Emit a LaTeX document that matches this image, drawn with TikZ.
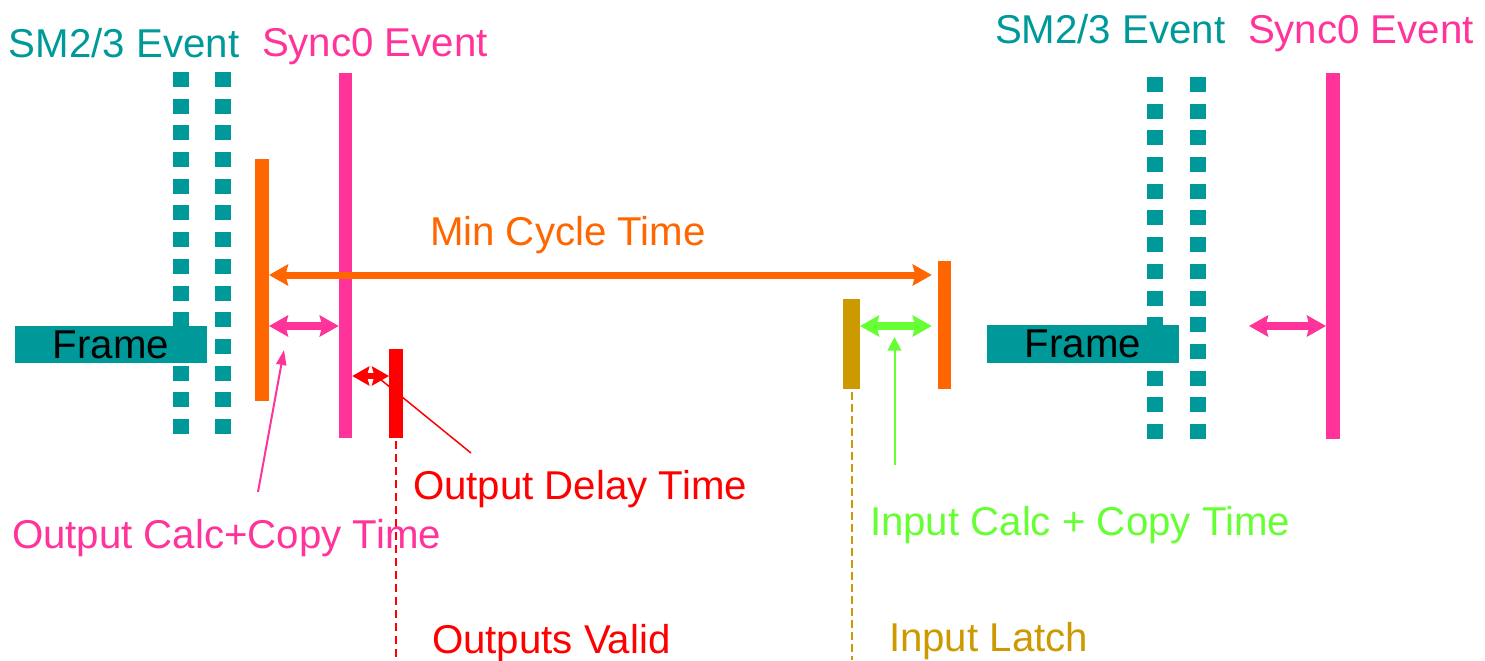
\documentclass[tikz,border=0pt]{standalone}
\usepackage{fontspec}
\setmainfont{Liberation Sans}
\usetikzlibrary{arrows.meta}
\definecolor{cTeal}{HTML}{009999}
\definecolor{cPink}{HTML}{FF3399}
\definecolor{cOrange}{HTML}{FF6600}
\definecolor{cRed}{HTML}{FF0000}
\definecolor{cGold}{HTML}{CC9900}
\definecolor{cGreen}{HTML}{66FF33}
\begin{document}
\begin{tikzpicture}[x=0.02cm,y=-0.02cm,
  bar/.style={rectangle, draw=none, inner sep=0pt, outer sep=0pt},
  lbl/.style={anchor=base west, inner sep=0pt, outer sep=0pt, font=\fontsize{22.9pt}{27pt}\selectfont},
  frm/.style={rectangle, fill=cTeal, inner sep=0pt, outer sep=0pt, minimum width=3.84cm, minimum height=0.75cm, text=black, font=\fontsize{22.9pt}{27pt}\selectfont},
  dotline/.style={cTeal, line width=0.32cm, dash pattern=on 0.3cm off 0.234cm},
  tipbig/.tip={Stealth[length=0.38cm,width=0.42cm,inset=0.05cm]},
  tipred/.tip={Stealth[length=0.34cm,width=0.38cm,inset=0.05cm]},
  bigarrow/.style={line width=0.14cm, tipbig-tipbig},
  midarrow/.style={line width=0.15cm, tipbig-tipbig},
  pointer/.style={line width=0.04cm},
]
\useasboundingbox (0,0) rectangle (1485,660);

% reference coordinates
\coordinate (bot) at (0,660);
\coordinate (yMin) at (0,275);
\coordinate (yPinkL) at (0,326);
\coordinate (yRed) at (0,376);
\coordinate (yGreen) at (0,326);
\coordinate (yPinkR) at (0,326);

% dotted SM2/3 lines
\coordinate (d1t) at (181,72);  \coordinate (d1b) at (181,435);
\coordinate (d2t) at (223,72);  \coordinate (d2b) at (223,435);
\coordinate (d3t) at (1155,77); \coordinate (d3b) at (1155,439);
\coordinate (d4t) at (1198,77); \coordinate (d4b) at (1198,439);
\draw[dotline] (d1t) -- (d1b);
\draw[dotline] (d2t) -- (d2b);
\draw[dotline] (d3t) -- (d3b);
\draw[dotline] (d4t) -- (d4b);

% frames
\node[frm] (fr1) at (111,344.5) {Frame};
\node[frm] (fr2) at (1083,344) {Frame};

% red pointer (behind red bar)
\coordinate (rdA) at (380,379);
\coordinate (rdB) at (471,453);
\draw[cRed, line width=0.03cm] (rdA) -- (rdB);

% bars
\node[bar, fill=cOrange, minimum width=0.28cm, minimum height=4.84cm] (ob1) at (262,280) {};
\node[bar, fill=cPink,   minimum width=0.27cm, minimum height=7.30cm] (p1)  at (345.5,255.5) {};
\node[bar, fill=cRed,    minimum width=0.28cm, minimum height=1.78cm] (rb)  at (396,393.5) {};
\node[bar, fill=cGold,   minimum width=0.34cm, minimum height=1.80cm] (gb)  at (851.5,344) {};
\node[bar, fill=cOrange, minimum width=0.27cm, minimum height=2.56cm] (ob2) at (944.5,325) {};
\node[bar, fill=cPink,   minimum width=0.28cm, minimum height=7.32cm] (p2)  at (1333,256) {};

% span arrows
\draw[cOrange, bigarrow] (ob1.east |- yMin) -- ([xshift=-0.12cm]ob2.west |- yMin);
\draw[cPink, midarrow] (ob1.east |- yPinkL) -- (p1.west |- yPinkL);
\draw[cRed, line width=0.13cm, tipred-tipred] (p1.east |- yRed) -- (rb.west |- yRed);
\draw[cGreen, midarrow] (gb.east |- yGreen) -- ([xshift=-0.12cm]ob2.west |- yGreen);
\coordinate (prL) at (1249,326);
\draw[cPink, midarrow] (prL) -- (p2.west |- yPinkR);

% thin pointers
\coordinate (pcB) at (258,492);
\coordinate (pcT) at (284,350);
\draw[cPink, pointer, -{Triangle[length=0.3cm,width=0.2cm]}] (pcB) -- (pcT);
\coordinate (gpB) at (894.5,465);
\coordinate (gpT) at (894.5,337);
\draw[cGreen, pointer, -{Triangle[length=0.27cm,width=0.27cm]}] (gpB) -- (gpT);

% dashed drop lines
\draw[cRed, line width=0.035cm, dash pattern=on 0.16cm off 0.1cm] ([yshift=-0.06cm]rb.south) -- (rb.south |- bot);
\draw[cGold, line width=0.04cm, dash pattern=on 0.16cm off 0.08cm] ([yshift=-0.06cm]gb.south) -- (gb.south |- bot);

% labels
\node[lbl, text=cTeal] (smL) at (9,57) {SM2/3 Event};
\node[lbl, text=cPink] (syL) at (262,56) {Sync0 Event};
\node[lbl, text=cTeal] (smR) at (995,43) {SM2/3 Event};
\node[lbl, text=cPink] (syR) at (1248,43) {Sync0 Event};
\node[lbl, text=cOrange] (mct) at (430,245) {Min Cycle Time};
\node[lbl, text=cRed] (odt) at (413,499) {Output Delay Time};
\node[lbl, text=cPink] (oct) at (12,548) {Output Calc+Copy Time};
\node[lbl, text=cGreen] (ict) at (870,535) {Input Calc + Copy Time};
\node[lbl, text=cRed] (ov) at (432,653) {Outputs Valid};
\node[lbl, text=cGold] (il) at (889,651) {Input Latch};
\end{tikzpicture}
\end{document}
